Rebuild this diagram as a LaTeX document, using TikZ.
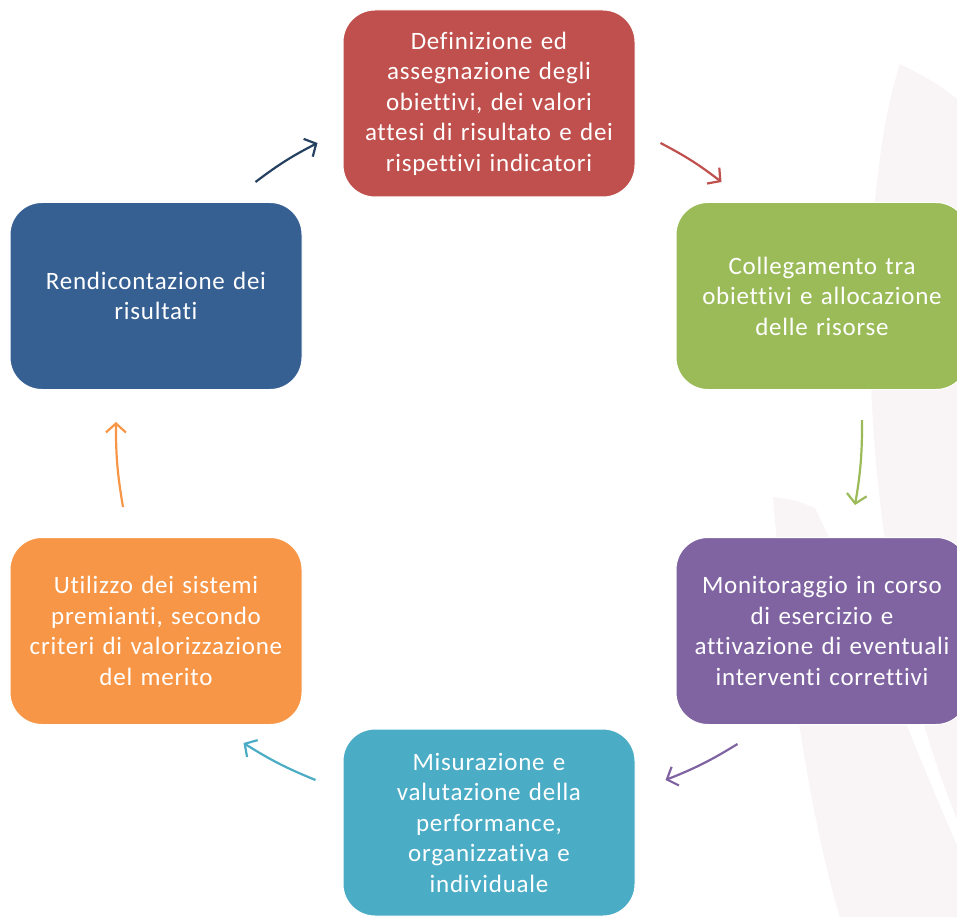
\documentclass[tikz,border=0pt]{standalone}
\usepackage{fontspec}
\setmainfont{Carlito}[Ligatures=NoCommon,LetterSpace=3]
\usetikzlibrary{arrows.meta}

\definecolor{rosso}{HTML}{C0504D}
\definecolor{verde}{HTML}{9BBB59}
\definecolor{viola}{HTML}{8064A2}
\definecolor{azzurro}{HTML}{4BACC6}
\definecolor{arancio}{HTML}{F79646}
\definecolor{blu}{HTML}{376092}
\definecolor{blufreccia}{HTML}{254061}
\definecolor{sfondo}{HTML}{F9F5F7}

\begin{document}
\begin{tikzpicture}[x=1pt,y=-1pt,>={Straight Barb[length=9pt,width=20pt]},
    fase/.style={rectangle,rounded corners=32pt,draw=white,line width=1pt,
      minimum width=292pt,minimum height=187pt,text width=285pt,align=center,
      text=white,font=\fontsize{25}{30.5}\selectfont},
    every edge/.style={draw,line width=2.2pt,bend left=5}]
    \useasboundingbox (0,0) rectangle (957,917);
    \clip (0,0) rectangle (957,917);

    % sfondo
    \fill[sfondo] (900,64) .. controls (855,200) and (850,560) .. (957,819)
      -- (957,99) .. controls (935,82) .. (900,64) -- cycle;
    \fill[sfondo] (773,497) .. controls (785,650) and (810,820) .. (840,917)
      -- (957,917) -- (957,845) .. controls (910,740) and (860,600) .. (815,508)
      .. controls (795,500) .. (773,497) -- cycle;

    \node[fase,fill=rosso] (1) at (489,103.5) {Definizione ed\\assegnazione degli\\obiettivi, dei valori\\attesi di risultato e dei\\rispettivi indicatori};
    \node[fase,fill=verde] (2) at (822,296) {Collegamento tra\\obiettivi e allocazione\\delle risorse};
    \node[fase,fill=viola] (3) at (822,631) {Monitoraggio in corso\\di esercizio e\\attivazione di eventuali\\interventi correttivi};
    \node[fase,fill=azzurro] (4) at (489,822.5) {Misurazione e\\valutazione della\\performance,\\organizzativa e\\individuale};
    \node[fase,fill=arancio] (5) at (156,631) {Utilizzo dei sistemi\\premianti, secondo\\criteri di valorizzazione\\del merito};
    \node[fase,fill=blu] (6) at (156,296) {Rendicontazione dei\\risultati};

    \path[->,color=rosso] ([xshift=25pt,yshift=-39.5pt]1.east) edge ([xshift=46pt,yshift=20pt]2.north west);
    \path[->,color=verde] ([xshift=40pt,yshift=-30pt]2.south) edge ([xshift=33pt,yshift=32pt]3.north);
    \path[->,color=viola] ([xshift=62pt,yshift=-19pt]3.south west) edge ([xshift=30pt,yshift=42.5pt]4.east);
    \path[->,color=azzurro] ([xshift=-27pt,yshift=42.5pt]4.west) edge ([xshift=-59pt,yshift=-18pt]5.south east);
    \path[->,color=arancio] ([xshift=-33pt,yshift=30pt]5.north) edge ([xshift=-40pt,yshift=-32pt]6.south);
    \path[->,color=blufreccia] ([xshift=-47pt,yshift=20pt]6.north east) edge ([xshift=-25pt,yshift=-39.5pt]1.west);
\end{tikzpicture}
\end{document}
